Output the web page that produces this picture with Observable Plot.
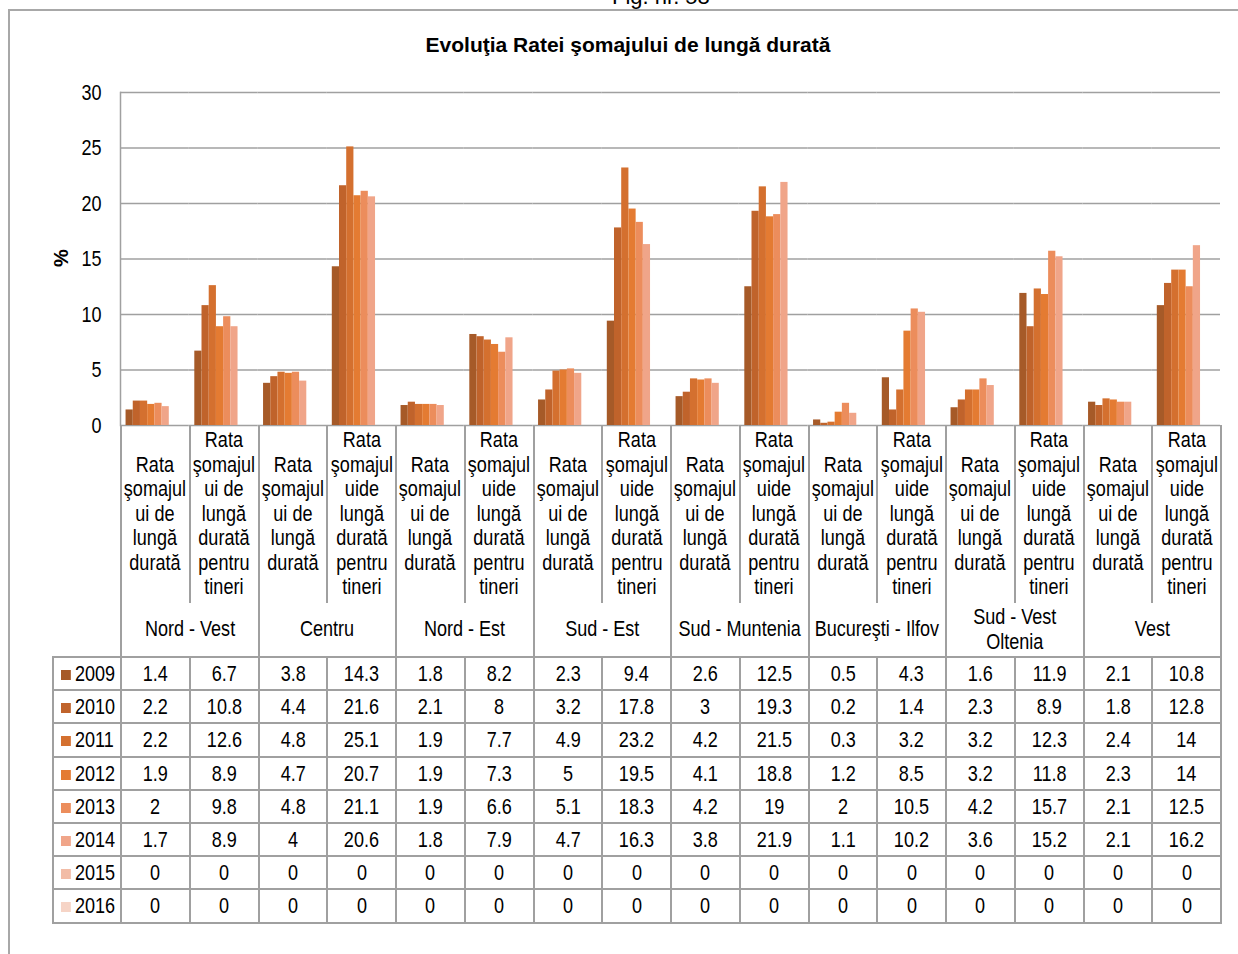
<!DOCTYPE html>
<html><head><meta charset="utf-8">
<script src="https://cdn.jsdelivr.net/npm/d3@7"></script>
<script src="https://cdn.jsdelivr.net/npm/@observablehq/plot@0.6"></script>
<style>
body{margin:0;background:#fff;}
#root{position:relative;width:1238px;height:954px;overflow:hidden;font-family:"Liberation Sans Narrow","Arial Narrow","Liberation Sans",sans-serif;color:#000;background:#fff;}
#box{position:absolute;left:8px;top:9px;width:1400px;height:1100px;border-left:2px solid #a8a8a8;border-top:2px solid #a8a8a8;}
#fig{position:absolute;left:612px;top:-14px;font-size:22px;line-height:22px;white-space:nowrap;}
#title{position:absolute;left:0;width:1256px;top:33px;text-align:center;font-weight:bold;font-size:21px;line-height:24px;}
#ylab{position:absolute;left:61px;top:258px;transform:translate(-50%,-50%) rotate(-90deg);font-weight:bold;font-size:20px;line-height:20px;}
#chart{position:absolute;left:0;top:60px;}
#tbl{position:absolute;left:52px;top:425px;width:1168px;border-collapse:collapse;table-layout:fixed;font-size:22px;}
#tbl td{padding:0;text-align:center;vertical-align:middle;border:2px solid #a0a0a0;white-space:nowrap;}
#tbl td.blank{border:none;}
#tbl tr.lab td{border-top:none;border-bottom:none;line-height:24.5px;height:178px;}
#tbl tr.reg td{border-top:none;line-height:24.5px;height:53px;}
#tbl tr.dat td{height:31.2px;line-height:31px;}
#tbl td.leg{text-align:left;padding-left:7px;}
.n{display:inline-block;transform:scaleX(0.82);transform-origin:50% 50%;margin:0 -40px;}
.l{display:inline-block;transform:scaleX(0.82);transform-origin:0 50%;}
.sw{display:inline-block;width:12px;height:10px;margin-right:5px;vertical-align:1px;}
</style></head>
<body><div id="root">
<div id="box"></div>
<div id="fig">Fig. nr. 58</div>
<div id="title">Evoluţia Ratei şomajului de lungă durată</div>
<div id="ylab">%</div>
<div id="chart"></div>
<table id="tbl"></table>
</div>
<script>
// ---- data ----
const regions = ["Nord - Vest","Centru","Nord - Est","Sud - Est","Sud - Muntenia","Bucureşti - Ilfov","Sud - Vest|Oltenia","Vest"];
const labelGeneral = "Rata|şomajul|ui de|lungă|durată";
const labelYouthNV = "Rata|şomajul|ui de|lungă|durată|pentru|tineri";
const labelYouth = "Rata|şomajul|uide|lungă|durată|pentru|tineri";
const years = ["2009","2010","2011","2012","2013","2014","2015","2016"];
const colors = ["#a65a28","#c0632b","#d4702f","#e47b32","#ec8d5c","#f0a589","#f2bca6","#f6d4c6"];
const v2009 = [1.4,6.7,3.8,14.3,1.8,8.2,2.3,9.4,2.6,12.5,0.5,4.3,1.6,11.9,2.1,10.8];
const v2010 = [2.2,10.8,4.4,21.6,2.1,8,3.2,17.8,3,19.3,0.2,1.4,2.3,8.9,1.8,12.8];
const v2011 = [2.2,12.6,4.8,25.1,1.9,7.7,4.9,23.2,4.2,21.5,0.3,3.2,3.2,12.3,2.4,14];
const v2012 = [1.9,8.9,4.7,20.7,1.9,7.3,5,19.5,4.1,18.8,1.2,8.5,3.2,11.8,2.3,14];
const v2013 = [2,9.8,4.8,21.1,1.9,6.6,5.1,18.3,4.2,19,2,10.5,4.2,15.7,2.1,12.5];
const v2014 = [1.7,8.9,4,20.6,1.8,7.9,4.7,16.3,3.8,21.9,1.1,10.2,3.6,15.2,2.1,16.2];
const v2015 = [0,0,0,0,0,0,0,0,0,0,0,0,0,0,0,0];
const v2016 = [0,0,0,0,0,0,0,0,0,0,0,0,0,0,0,0];
const yTicks = [0,5,10,15,20,25,30];

// ---- build ----
const series = [v2009,v2010,v2011,v2012,v2013,v2014,v2015,v2016];
const cols = d3.range(16).map(i => "c" + i);
const data = [];
series.forEach((arr, yi) => arr.forEach((v, ci) => data.push({col: cols[ci], year: years[yi], value: v})));

const chart = Plot.plot({
  width: 1238, height: 380,
  marginLeft: 120, marginRight: 18, marginTop: 32, marginBottom: 15,
  style: {fontFamily: '"Liberation Sans Narrow","Arial Narrow","Liberation Sans",sans-serif', fontSize: "22px", color: "#000", background: "transparent"},
  fx: {domain: cols, paddingInner: 0, paddingOuter: 0, round: false, axis: null},
  x: {domain: years, paddingInner: 0, paddingOuter: 0.77, round: false, axis: null},
  y: {domain: [0, 30], axis: null},
  color: {domain: years, range: colors},
  marks: [
    Plot.ruleY(yTicks, {stroke: "#a0a0a0", strokeWidth: 1.5}),
    Plot.barY(data, {fx: "col", x: "year", y: "value", fill: "year"}),
    Plot.axisY(yTicks, {anchor: "left", tickSize: 0, tickPadding: 19, fontSize: 22, label: null}),
    Plot.frame({anchor: "left", facetAnchor: "left", stroke: "#a0a0a0", strokeWidth: 1.5})
  ]
});
// narrow the tick labels to mimic a condensed face
d3.select(chart).selectAll("g[aria-label='y-axis tick label'] text").each(function() {
  const t = this.getAttribute("transform") || "";
  this.setAttribute("transform", t + " scale(0.82,1)");
});
document.getElementById("chart").appendChild(chart);

// ---- table ----
const tbl = document.getElementById("tbl");
const wrap = s => '<span class="n">' + s + '</span>';
let html = '<colgroup><col style="width:68px">' + cols.map(() => '<col style="width:68.75px">').join("") + '</colgroup>';
html += '<tr class="lab"><td class="blank" rowspan="2"></td>';
regions.forEach((r, i) => {
  const b = i === 0 ? labelYouthNV : labelYouth;
  html += '<td>' + wrap(labelGeneral.split("|").join("<br>")) + '</td><td>' + wrap(b.split("|").join("<br>")) + '</td>';
});
html += '</tr><tr class="reg">';
regions.forEach(r => { html += '<td colspan="2">' + wrap(r.split("|").join("<br>")) + '</td>'; });
html += '</tr>';
series.forEach((arr, yi) => {
  html += '<tr class="dat"><td class="leg"><span class="l"><span class="sw" style="background:' + colors[yi] + '"></span>' + years[yi] + '</span></td>';
  arr.forEach(v => { html += '<td>' + wrap(String(v)) + '</td>'; });
  html += '</tr>';
});
tbl.innerHTML = html;
</script>
</body></html>
